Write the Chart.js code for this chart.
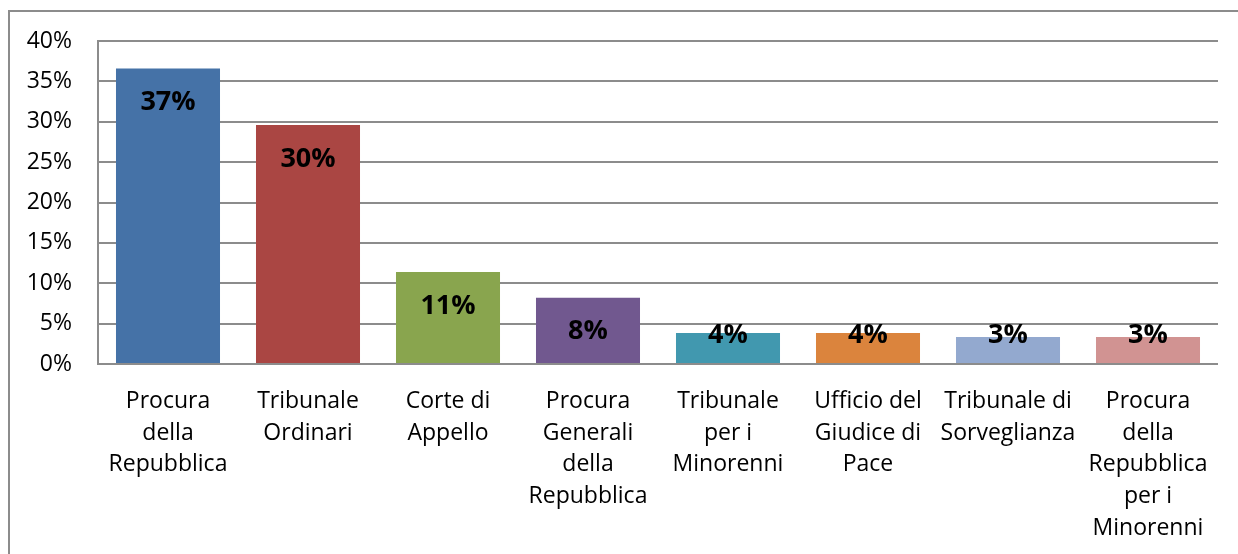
<!DOCTYPE html>
<html>
<head>
<meta charset="utf-8">
<script src="https://cdn.jsdelivr.net/npm/chart.js@4"></script>
<style>
  html, body { margin: 0; padding: 0; background: #fff; overflow: hidden; }
  #frame { position: absolute; left: 8px; top: 10px; width: 1300px; height: 600px;
           border-top: 2px solid #8c8c8c; border-left: 2px solid #8c8c8c; }
  #wrap { position: absolute; left: 0; top: 0; width: 1238px; height: 554px; }
</style>
</head>
<body>
<div id="frame"></div>
<div id="wrap"><canvas id="chart"></canvas></div>
<script>
const categories = [
  ['Procura', 'della', 'Repubblica'],
  ['Tribunale', 'Ordinari'],
  ['Corte di', 'Appello'],
  ['Procura', 'Generali', 'della', 'Repubblica'],
  ['Tribunale', 'per i', 'Minorenni'],
  ['Ufficio del', 'Giudice di', 'Pace'],
  ['Tribunale di', 'Sorveglianza'],
  ['Procura', 'della', 'Repubblica', 'per i', 'Minorenni']
];
const values = [36.6, 29.6, 11.4, 8.2, 3.85, 3.85, 3.35, 3.35];
const barColors = ['#4572A7', '#AA4643', '#89A54E', '#71588F', '#4198AF', '#DB843D', '#93A9CF', '#D19392'];
const yTicks = [0, 5, 10, 15, 20, 25, 30, 35, 40];

const font = "'Open Sans', sans-serif";
const gridColor = '#8c8c8c';

// value labels inside bar tops, kept above the baseline when the bar is short
const valueLabels = {
  id: 'valueLabels',
  afterDatasetsDraw(chart) {
    const { ctx } = chart;
    const meta = chart.getDatasetMeta(0);
    ctx.save();
    ctx.font = "bold 27px " + font;
    ctx.fillStyle = '#000';
    ctx.textAlign = 'center';
    ctx.textBaseline = 'middle';
    meta.data.forEach((bar, i) => {
      const y = Math.min(bar.y + 34, bar.base - 28);
      ctx.fillText(Math.round(values[i]) + '%', bar.x, y);
    });
    ctx.restore();
  }
};

new Chart(document.getElementById('chart'), {
  type: 'bar',
  data: {
    labels: categories,
    datasets: [{
      data: values,
      backgroundColor: barColors,
      borderWidth: 0,
      categoryPercentage: 1,
      barPercentage: 0.743
    }]
  },
  options: {
    responsive: true,
    maintainAspectRatio: false,
    animation: false,
    layout: { padding: { top: 41, right: 20, left: 0, bottom: 0 } },
    plugins: {
      legend: { display: false },
      tooltip: { enabled: false }
    },
    scales: {
      x: {
        grid: { display: false, drawTicks: false },
        border: { display: false },
        ticks: {
          color: '#000',
          font: { family: font, size: 23, lineHeight: 1.39 },
          padding: 21,
          maxRotation: 0,
          autoSkip: false
        },
        afterFit(scale) { scale.height = 190; }
      },
      y: {
        min: 0,
        max: 40,
        afterBuildTicks(scale) { scale.ticks = yTicks.map(v => ({ value: v })); },
        grid: { color: gridColor, lineWidth: 2, drawTicks: false },
        border: { display: true, color: gridColor, width: 2 },
        ticks: {
          color: '#000',
          font: { family: font, size: 23 },
          padding: 26,
          callback: v => v + '%'
        },
        afterFit(scale) { scale.width = 98; }
      }
    }
  },
  plugins: [valueLabels]
});
</script>
</body>
</html>
